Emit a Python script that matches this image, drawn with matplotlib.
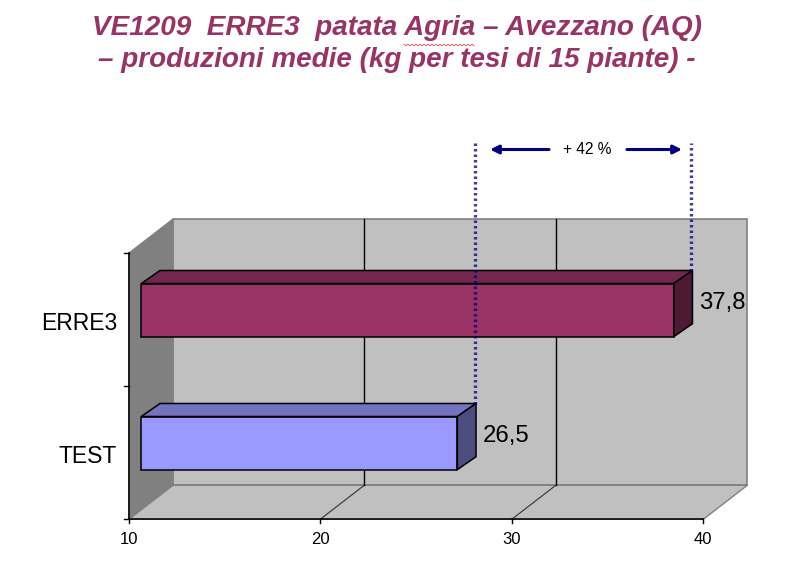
import numpy as np
import matplotlib
matplotlib.use("Agg")
import matplotlib.pyplot as plt
from matplotlib.patches import Polygon

# data
categories = ["TEST", "ERRE3"]
values = [26.5, 37.8]
value_labels = ["26,5", "37,8"]
x_ticks = [10, 20, 30, 40]
gain_label = "+ 42 %"
title_lines = ["VE1209  ERRE3  patata Agria – Avezzano (AQ)",
               "– produzioni medie (kg per tesi di 15 piante) -"]

# colours: front, top, side of each bar
bar_colors = [("#9999FF", "#7373BF", "#4D4D80"),
              ("#993366", "#732650", "#4D1A33")]

W, H = 790, 582
plt.rcParams["font.family"] = ["Liberation Sans", "DejaVu Sans"]

fig = plt.figure(figsize=(W / 100, H / 100), dpi=100)

# front plane of the 3D box, in pixels
left, right, bottom, top = 128.7, 703.3, 519.3, 253.3
ax = fig.add_axes([left / W, 1 - bottom / H, (right - left) / W, (bottom - top) / H])
ax.set_xlim(10, 40)
ax.set_ylim(0, 2)
ax.axis("off")

px_x = (right - left) / 30
px_y = (bottom - top) / 2


def shift(x, y, dx_px=0.0, dy_px=0.0):
    # data point moved back into the depth of the box by some pixels
    return (x + dx_px / px_x, y + dy_px / px_y)


def face(points, color, edge, lw=1.0, z=2):
    ax.add_patch(Polygon(points, closed=True, facecolor=color, edgecolor=edge,
                         linewidth=lw, zorder=z, clip_on=False, joinstyle="miter"))


DX, DY = 44, 34

# walls and floor
face([shift(10, 0, DX, DY), shift(40, 0, DX, DY), shift(40, 2, DX, DY), shift(10, 2, DX, DY)],
     "#C0C0C0", "#808080", 1.2, 1)
face([shift(10, 0), shift(40, 0), shift(40, 0, DX, DY), shift(10, 0, DX, DY)],
     "#C0C0C0", "#808080", 1.0, 1)
face([shift(10, 0), shift(10, 0, DX, DY), shift(10, 2, DX, DY), shift(10, 2)],
     "#808080", "#808080", 1.0, 1)

# gridlines on the back wall and floor
for t in x_ticks[1:-1]:
    xs, ys = zip(shift(t, 0), shift(t, 0, DX, DY), shift(t, 2, DX, DY))
    ax.plot(xs[:2], ys[:2], color="#404040", lw=0.9, zorder=1.5, clip_on=False)
    ax.plot(xs[1:], ys[1:], color="black", lw=1.0, zorder=1.5, clip_on=False)

# axis lines and ticks
ax.plot([10, 40], [0, 0], color="black", lw=1.1, zorder=1.8, clip_on=False)
ax.plot([10, 10], [0, 2], color="black", lw=1.1, zorder=1.8, clip_on=False)
for t in x_ticks:
    x0, y0 = shift(t, 0, 0, -4)
    ax.plot([t, x0], [0, y0], color="black", lw=1.0, clip_on=False)
    ax.text(t, shift(t, 0, 0, -20)[1], str(t), ha="center", va="center", fontsize=12)
for t in [0, 1, 2]:
    ax.plot([shift(10, t, -5)[0], 10], [t, t], color="black", lw=1.0, clip_on=False)

# 3D bars
BX, BY = 12.6, 9.7    # front face offset
TX, TY = 18.7, 13.0   # depth of the bar
half = 0.2
end_x = []
for i, (cat, val) in enumerate(zip(categories, values)):
    c = i + 0.5
    front, top_c, side = bar_colors[i]
    x0, x1 = 10, val
    fl, fb = shift(x0, c - half, BX, BY)
    fr, ft = shift(x1, c + half, BX, BY)
    face([(fl, fb), (fr, fb), (fr, ft), (fl, ft)], front, "black", 1.1, 3)
    face([(fl, ft), (fr, ft), shift(fr, ft, TX, TY), shift(fl, ft, TX, TY)], top_c, "black", 1.1, 3)
    face([(fr, fb), (fr, ft), shift(fr, ft, TX, TY), shift(fr, fb, TX, TY)], side, "black", 1.1, 3)
    end_x.append(shift(fr, ft, TX, TY))

    ax.text(shift(fr, 0, TX + 6.5)[0], c + 0.125, value_labels[i], ha="left", va="center", fontsize=17.2, zorder=5)
    ax.text(shift(10, 0, -11.7)[0], c - 0.03, cat, ha="right", va="center", fontsize=16.5)

# dotted guides from the bar ends up to the arrow row
guide_top = (bottom - 143) / px_y
for (ex, ey) in end_x:
    gx = shift(ex, 0, -1.5)[0]
    ax.plot([gx, gx], [ey, guide_top], color="#000080", lw=2.4, alpha=0.75,
            linestyle=(0, (0.75, 0.9)), zorder=4, clip_on=False)

# gain arrows
arrow_y = (bottom - 149.5) / px_y
x_mid = (end_x[0][0] + end_x[1][0]) / 2
ax.text(x_mid + 0.16, arrow_y, gain_label, ha="center", va="center", fontsize=11.2)
arrow = dict(arrowstyle="-|>,head_length=0.5,head_width=0.25", color="#000080", lw=2.2,
             shrinkA=0, shrinkB=0)
ax.annotate("", xy=(10 + (490 - left) / px_x, arrow_y), xytext=(10 + (549 - left) / px_x, arrow_y),
            arrowprops=arrow, annotation_clip=False)
ax.annotate("", xy=(10 + (682 - left) / px_x, arrow_y), xytext=(10 + (627 - left) / px_x, arrow_y),
            arrowprops=arrow, annotation_clip=False)

# title
for line, y in zip(title_lines, [28, 60]):
    fig.text(397 / W, 1 - y / H, line, ha="center", va="center", fontsize=20.1,
             fontweight="bold", fontstyle="italic", color="#993366")

# spellcheck squiggle under "Agria"
sq_x = np.arange(404, 476, 2.0)
sq_y = 45 + np.where(np.arange(len(sq_x)) % 2 == 0, -0.8, 0.8)
fig.add_artist(plt.Line2D(sq_x / W, 1 - sq_y / H, color="#E06060", lw=0.7))

fig.savefig("out.png", dpi=100)
